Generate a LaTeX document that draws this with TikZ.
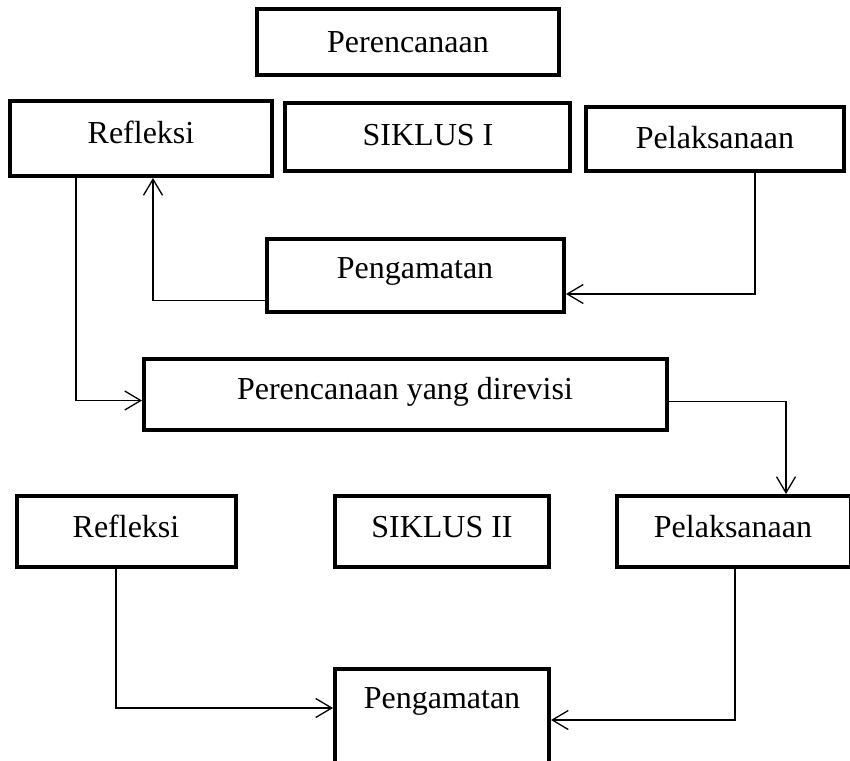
\documentclass[tikz,border=0pt]{standalone}
\usepackage{fontspec}
\setmainfont{Liberation Serif}
\usetikzlibrary{arrows.meta,fit,calc}
\begin{document}
\begin{tikzpicture}[x=0.5pt,y=-0.5pt,
  box/.style={draw, line width=2pt, inner sep=0pt, rectangle},
  lbl/.style={anchor=base, inner sep=0pt, font=\fontsize{16}{19}\selectfont},
  conn/.style={line width=0.65pt, -{Straight Barb[length=8pt,width=9.5pt]}},
]
\clip (0,0) rectangle (850,760);
\fill[white] (0,0) rectangle (850,760);

\node[box, fit={(257,9)(559,75)}] (plan) {};
\node[lbl] (plan-t) at (408,52) {Perencanaan};
\node[box, fit={(10,101)(272,176)}] (refl1) {};
\node[lbl] (refl1-t) at (141,143) {Refleksi};
\node[box, fit={(285,103)(570,171)}] (sik1) {};
\node[lbl] (sik1-t) at (428,145) {SIKLUS I};
\node[box, fit={(586,107)(844,171)}] (pel1) {};
\node[lbl] (pel1-t) at (715,148) {Pelaksanaan};
\node[box, fit={(267,239)(564,312)}] (peng1) {};
\node[lbl] (peng1-t) at (415,278) {Pengamatan};
\node[box, fit={(144,359)(667,430)}] (rev) {};
\node[lbl] (rev-t) at (405,399) {Perencanaan yang direvisi};
\node[box, fit={(17,496)(236,567)}] (refl2) {};
\node[lbl] (refl2-t) at (126,537) {Refleksi};
\node[box, fit={(335,496)(549,567)}] (sik2) {};
\node[lbl] (sik2-t) at (442,537) {SIKLUS II};
\node[box, fit={(617,496)(851,567)}] (pel2) {};
\node[lbl] (pel2-t) at (733,537) {Pelaksanaan};
\node[box, fit={(335,669)(549,775)}] (peng2) {};
\node[lbl] (peng2-t) at (442,708) {Pengamatan};

\draw[conn] ($(refl1.south west)+(68,0)$) |- ($(rev.west)+(0,6)$);
\draw[conn] ($(peng1.west)+(0,25)$) -| ($(refl1.south west)+(145,0)$);
\draw[conn] ($(pel1.south west)+(171,0)$) |- ($(peng1.east)+(0,18.5)$);
\draw[conn] ($(rev.east)+(0,7)$) -| ($(pel2.north west)+(171,0)$);
\draw[conn] ($(refl2.south west)+(101,0)$) |- ($(peng2.north west)+(0,41)$);
\draw[conn] ($(pel2.south west)+(120,0)$) |- ($(peng2.north east)+(0,53)$);
\end{tikzpicture}
\end{document}
